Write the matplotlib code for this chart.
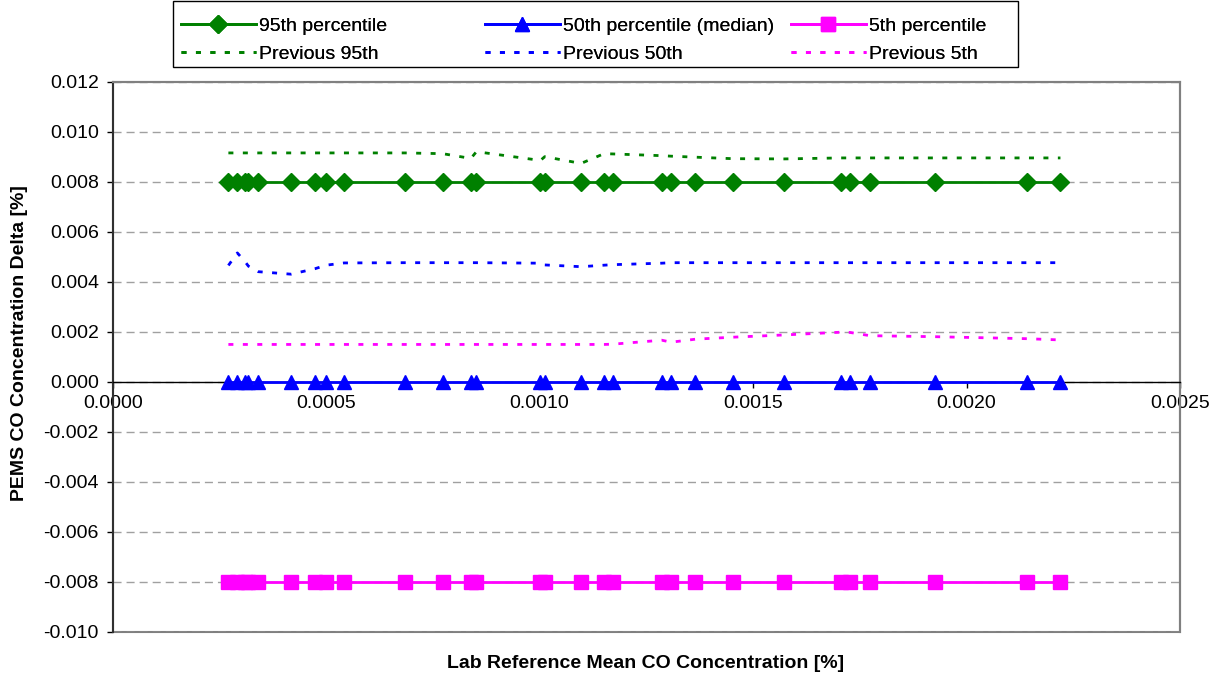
import matplotlib
matplotlib.use("Agg")
import matplotlib.pyplot as plt
from matplotlib.patches import Rectangle
from matplotlib.ticker import FormatStrFormatter, MultipleLocator

plt.rcParams['font.family'] = ['Liberation Sans', 'DejaVu Sans']
plt.rcParams['axes.unicode_minus'] = False

# lab reference mean CO [%]
lab_co = [0.000271, 0.000292, 0.000310, 0.000318, 0.000341, 0.000418, 0.000474,
          0.000500, 0.000542, 0.000685, 0.000773, 0.000839, 0.000852, 0.001002,
          0.001012, 0.001097, 0.001151, 0.001171, 0.001286, 0.001308, 0.001365,
          0.001452, 0.001573, 0.001706, 0.001727, 0.001774, 0.001926, 0.002142,
          0.002220]

p95 = [0.008, 0.008, 0.008, 0.008, 0.008, 0.008, 0.008, 0.008, 0.008, 0.008,
       0.008, 0.008, 0.008, 0.008, 0.008, 0.008, 0.008, 0.008, 0.008, 0.008,
       0.008, 0.008, 0.008, 0.008, 0.008, 0.008, 0.008, 0.008, 0.008]
p50 = [0.0, 0.0, 0.0, 0.0, 0.0, 0.0, 0.0, 0.0, 0.0, 0.0,
       0.0, 0.0, 0.0, 0.0, 0.0, 0.0, 0.0, 0.0, 0.0, 0.0,
       0.0, 0.0, 0.0, 0.0, 0.0, 0.0, 0.0, 0.0, 0.0]
p5 = [-0.008, -0.008, -0.008, -0.008, -0.008, -0.008, -0.008, -0.008, -0.008, -0.008,
      -0.008, -0.008, -0.008, -0.008, -0.008, -0.008, -0.008, -0.008, -0.008, -0.008,
      -0.008, -0.008, -0.008, -0.008, -0.008, -0.008, -0.008, -0.008, -0.008]

prev95 = [0.00915, 0.00915, 0.00915, 0.00915, 0.00915, 0.00915, 0.00915, 0.00915,
          0.00915, 0.00915, 0.00912, 0.00893, 0.00920, 0.00885, 0.00900, 0.00873,
          0.00912, 0.00911, 0.00904, 0.00902, 0.00898, 0.00892, 0.00891, 0.00895,
          0.00895, 0.00895, 0.00895, 0.00895, 0.00895]
prev50 = [0.00465, 0.00515, 0.00480, 0.00462, 0.00440, 0.00430, 0.00452, 0.00466,
          0.00475, 0.00476, 0.00476, 0.00476, 0.00476, 0.00474, 0.00467, 0.00460,
          0.00466, 0.00468, 0.00474, 0.00476, 0.00476, 0.00476, 0.00476, 0.00476,
          0.00476, 0.00476, 0.00476, 0.00476, 0.00476]
prev5 = [0.00149, 0.00149, 0.00149, 0.00149, 0.00149, 0.00149, 0.00149, 0.00149,
         0.00149, 0.00149, 0.00149, 0.00149, 0.00149, 0.00149, 0.00149, 0.00149,
         0.00149, 0.00150, 0.00166, 0.00158, 0.00170, 0.00178, 0.00187, 0.00198,
         0.00197, 0.00184, 0.00180, 0.00172, 0.00167]

GREEN = '#008000'
BLUE = '#0000FF'
MAGENTA = '#FF00FF'
DOT = (0, (1.8, 3.4))


def main():
    fig = plt.figure(figsize=(12.21, 6.8), dpi=100)
    ax = fig.add_axes([0.0923, 0.0710, 0.8741, 0.8089])

    ax.set_xlim(0, 0.0025)
    ax.set_ylim(-0.010, 0.012)
    ax.xaxis.set_major_locator(MultipleLocator(0.0005))
    ax.yaxis.set_major_locator(MultipleLocator(0.002))
    ax.xaxis.set_major_formatter(FormatStrFormatter('%.4f'))
    ax.yaxis.set_major_formatter(FormatStrFormatter('%.3f'))

    ax.yaxis.grid(True, linestyle=(0, (5.8, 3.6)), color='#A0A0A0', lw=1)
    ax.set_axisbelow(True)

    # x axis crosses at zero, grey frame round the plot area
    ax.spines['bottom'].set_position(('data', 0))
    ax.spines['bottom'].set_color('black')
    ax.spines['bottom'].set_linewidth(1)
    ax.spines['left'].set_color('#303030')
    ax.spines['left'].set_linewidth(1.5)
    for s in ('top', 'right'):
        ax.spines[s].set_color('#808080')
        ax.spines[s].set_linewidth(1.5)
    ax.add_patch(Rectangle((0, 0), 1, 1, transform=ax.transAxes, fill=False,
                           edgecolor='#808080', lw=1.5, zorder=0.5, clip_on=False))

    ax.tick_params(axis='both', labelsize=14, direction='out', length=4.5,
                   width=1, colors='black')
    ax.tick_params(axis='y', pad=5.5)
    ax.tick_params(axis='x', pad=5)

    lw = 2.0
    h95, = ax.plot(lab_co, p95, color=GREEN, lw=lw, marker='D', ms=9,
                   clip_on=False, zorder=5)
    h50, = ax.plot(lab_co, p50, color=BLUE, lw=lw, marker='^', ms=10,
                   clip_on=False, zorder=5)
    h5, = ax.plot(lab_co, p5, color=MAGENTA, lw=lw, marker='s', ms=10,
                  clip_on=False, zorder=5)
    hp95, = ax.plot(lab_co, prev95, color=GREEN, lw=lw, ls=DOT, zorder=4)
    hp50, = ax.plot(lab_co, prev50, color=BLUE, lw=lw, ls=DOT, zorder=4)
    hp5, = ax.plot(lab_co, prev5, color=MAGENTA, lw=lw, ls=DOT, zorder=4)

    # legend: one small legend per column, inside a single black box
    fig.patches.append(Rectangle((172.7 / 1221, 1 - 67 / 680), (1018 - 172.7) / 1221,
                                 66 / 680, transform=fig.transFigure, fill=False,
                                 edgecolor='black', lw=1))
    cols = [((h95, hp95), ('95th percentile', 'Previous 95th'), 181),
            ((h50, hp50), ('50th percentile (median)', 'Previous 50th'), 485),
            ((h5, hp5), ('5th percentile', 'Previous 5th'), 791)]
    for handles, labels, x0 in cols:
        leg = fig.legend(handles, labels, loc='upper left',
                         bbox_to_anchor=(x0 / 1221, 1 - 17 / 680),
                         frameon=False, fontsize=14, handlelength=3.85,
                         handletextpad=0.15, labelspacing=0.55, borderpad=0,
                         borderaxespad=0, numpoints=1)
        fig.add_artist(leg)

    fig.text(646 / 1221, 1 - 663 / 680, 'Lab Reference Mean CO Concentration [%]',
             ha='center', va='center', fontsize=14, fontweight='bold')
    fig.text(20 / 1221, 1 - 343 / 680, 'PEMS CO Concentration Delta [%]',
             ha='center', va='center', rotation=90, fontsize=14, fontweight='bold')

    fig.savefig('out.png', dpi=100)
    plt.close(fig)


if __name__ == "__main__":
    main()
